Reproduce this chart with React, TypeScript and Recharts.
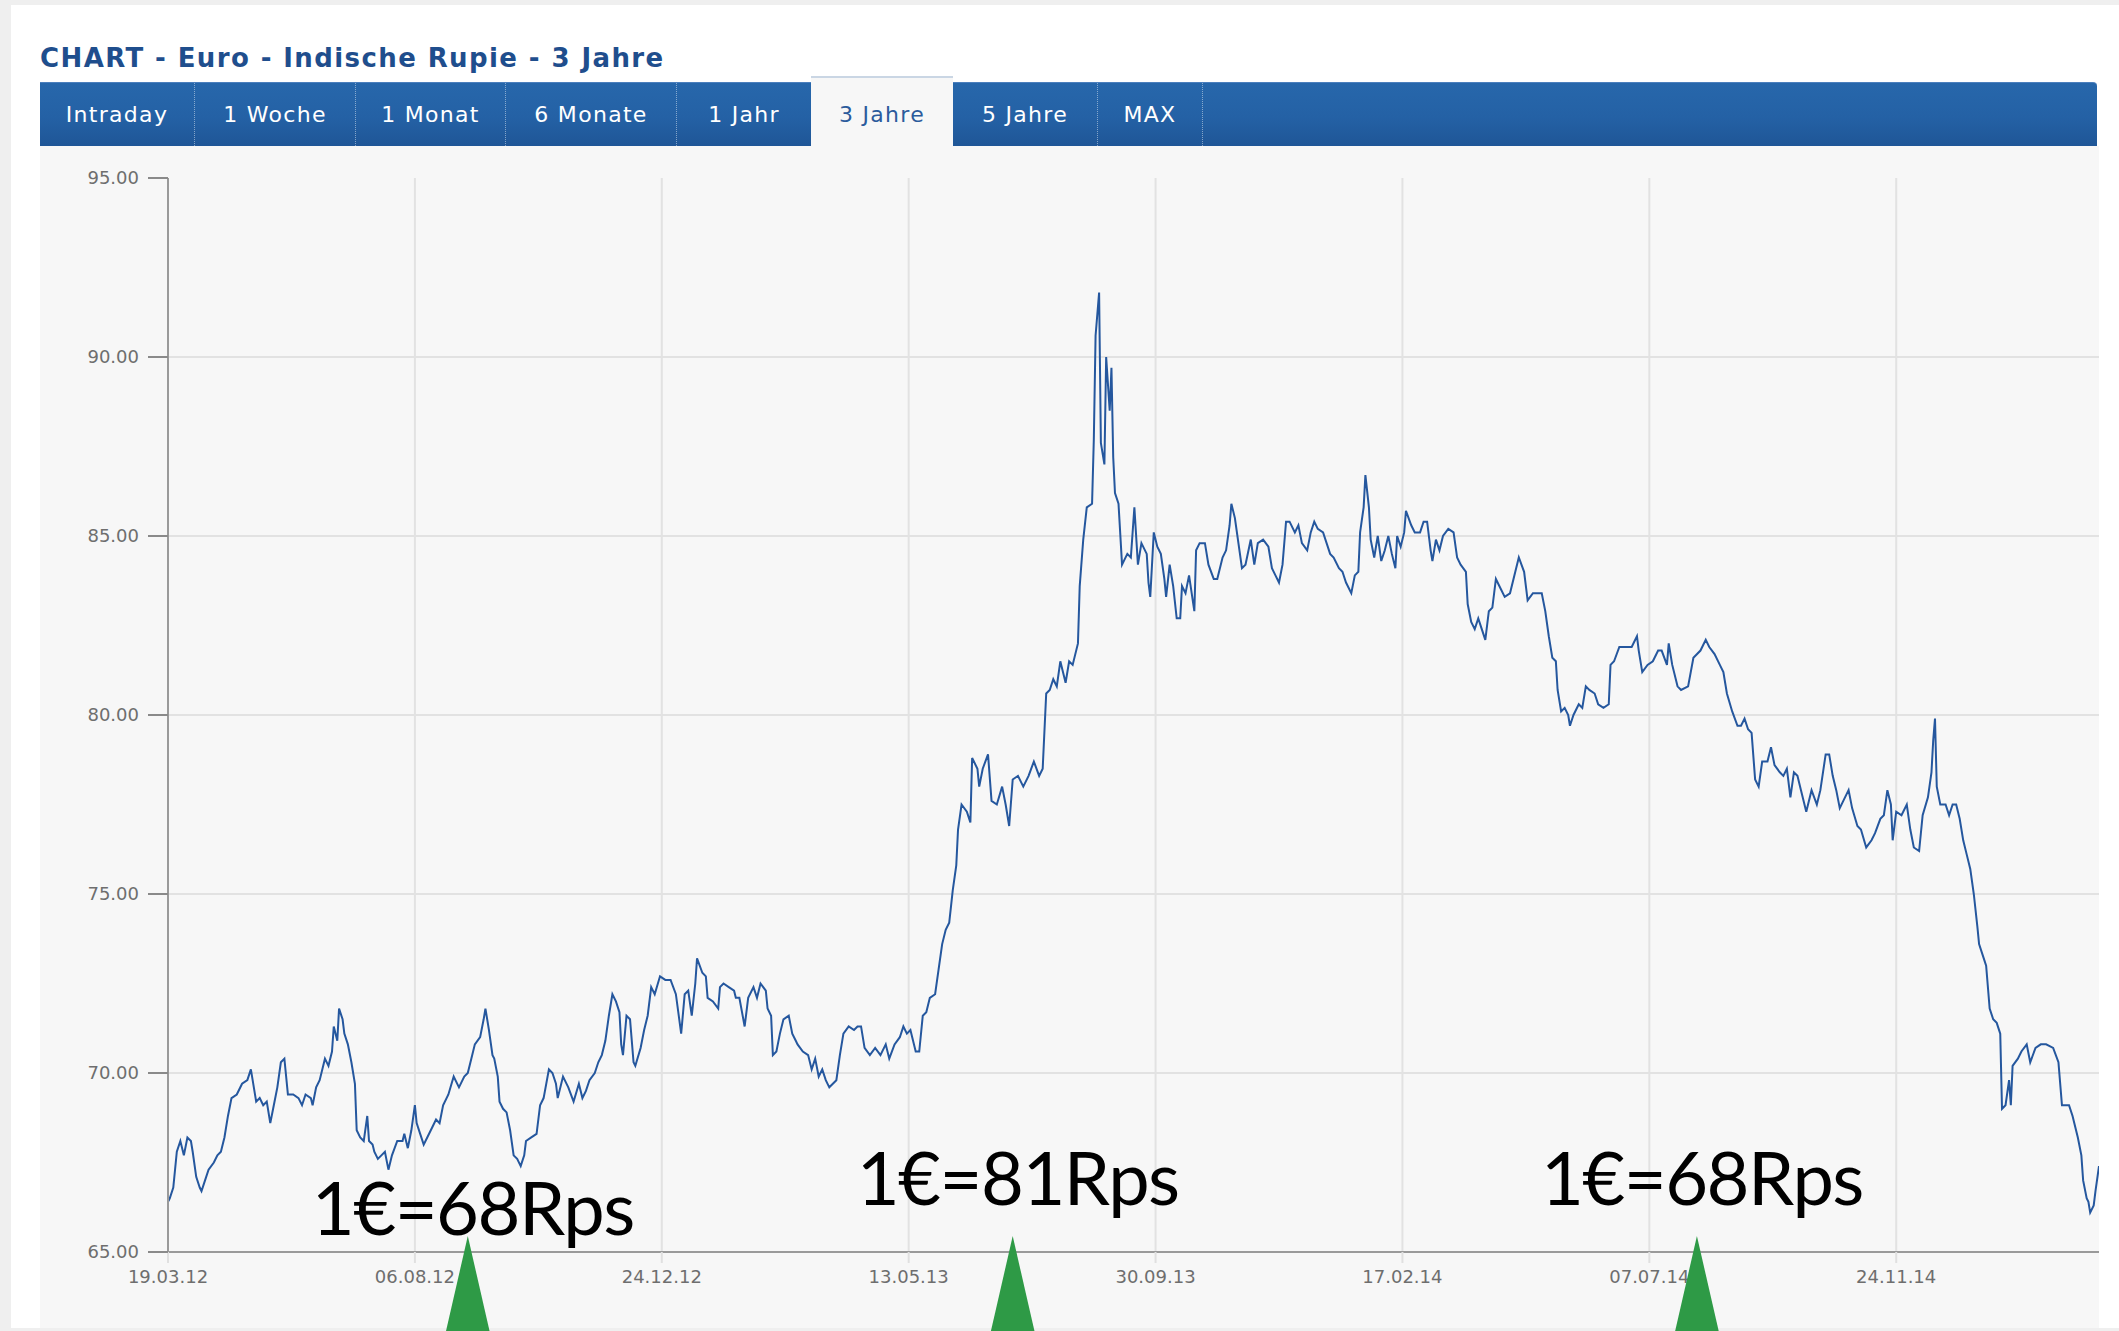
import { LineChart, Line, XAxis, YAxis, CartesianGrid, ReferenceDot } from 'recharts';

const FONT = '"DejaVu Sans", Verdana, sans-serif';

const title = 'CHART - Euro - Indische Rupie - 3 Jahre';
const tabs = ['Intraday', '1 Woche', '1 Monat', '6 Monate', '1 Jahr', '3 Jahre', '5 Jahre', 'MAX'];
const activeTab = '3 Jahre';

// x axis: days since 19.03.12
const tickDays = [0, 140, 280, 420, 560, 700, 840, 980];
const tickLabels = ['19.03.12', '06.08.12', '24.12.12', '13.05.13', '30.09.13', '17.02.14', '07.07.14', '24.11.14'];
const rateTicks = [65, 70, 75, 80, 85, 90, 95];

const days = [
  0, 1, 3, 5, 7, 9, 11, 13, 14, 16,
  18, 19, 21, 23, 26, 28, 30, 32, 34, 36,
  39, 42, 45, 47, 48, 50, 52, 54, 56, 58,
  60, 62, 64, 66, 68, 71, 74, 76, 78, 81,
  82, 84, 86, 89, 91, 93, 94, 96, 97, 99,
  100, 102, 104, 106, 107, 109, 111, 113, 114, 116,
  117, 119, 121, 123, 125, 127, 130, 133, 134, 136,
  138, 140, 141, 143, 145, 147, 150, 152, 154, 156,
  159, 162, 165, 168, 170, 172, 174, 177, 179, 180,
  182, 184, 185, 187, 188, 190, 192, 194, 196, 198,
  200, 202, 203, 206, 209, 211, 213, 216, 218, 220,
  221, 224, 227, 230, 233, 235, 237, 239, 242, 244,
  246, 248, 250, 252, 254, 256, 257, 258, 260, 262,
  264, 265, 268, 270, 272, 274, 276, 279, 282, 285,
  288,
  // 2013
  291, 293, 295, 297, 299, 300, 303, 305, 306, 309,
  312, 313, 315, 318, 321, 322, 324, 327, 329, 332,
  334, 336, 339, 340, 342, 343, 345, 347, 349, 352,
  354, 356, 357, 360, 363, 365, 367, 369, 371, 373,
  375, 379, 381, 383, 386, 389, 391, 393, 395, 398,
  401, 404, 407, 409, 412, 415, 417, 419, 421, 424,
  426, 428, 430, 432, 435, 437, 439, 441, 443, 445,
  447, 448, 450, 453, 455, 456, 459, 460, 462, 465,
  467, 470, 473, 475, 477, 479, 482, 485, 488, 491,
  494, 496, 498, 500, 502, 504, 506, 509, 511, 513,
  516, 517, 519, 521, 524, 525, 526, 528, 529, 531,
  532, 534, 535, 536, 537, 539, 541, 544, 546, 548,
  550,
  552, 555, 556, 557, 559, 561, 563, 565, 566, 568,
  570, 572, 574, 575, 577, 579, 582, 583, 585, 588,
  590, 593, 595, 598, 600, 602, 603, 605, 607, 609,
  611, 614, 616, 618, 621, 624, 626, 628, 630, 632,
  634, 636, 639, 641, 643, 646, 648, 650, 652, 655,
  657, 659, 661, 664, 666, 668, 671, 673, 675, 676,
  678, 679, 681, 682, 684, 686, 688, 690, 692, 694,
  696, 697, 699, 701, 702, 705, 707, 710, 712, 714,
  716, 717, 719, 721, 723, 726, 729, 731, 733, 736,
  737, 739, 741, 743, 745, 747, 749, 751, 753, 756,
  758, 761, 764, 766, 769, 771, 774, 777, 779, 781,
  783, 785, 787, 788, 790, 792, 794, 795, 797, 800,
  802, 804, 806, 809, 811, 814, 817, 818, 820, 823,
  826, 830, 833, 834, 836, 839, 842, 845,
  847, 850, 851, 853, 856, 858, 862, 865, 869, 872,
  874, 877, 880, 882, 884, 887, 890, 892, 894, 896,
  898, 900, 902, 904, 907, 909, 911, 914, 916, 918,
  920, 922, 924, 926, 929, 932, 935, 937, 940, 942,
  944, 946, 948, 950, 953, 955, 958, 960, 963, 966,
  968, 971, 973, 975, 977, 978, 980, 983, 986, 988,
  990, 993, 995, 998, 1000, 1001, 1002, 1003, 1005, 1008,
  1010, 1012, 1014, 1016, 1018, 1020, 1022, 1024, 1026, 1027,
  1029, 1031, 1033, 1035, 1037, 1039, 1040, 1042, 1044, 1045,
  1046, 1049, 1051, 1054, 1056, 1059, 1062, 1065, 1069, 1072,
  1074, 1078, 1080, 1083, 1085, 1086, 1088, 1089, 1090, 1092,
  1093, 1095,
];

const rates = [
  66.4, 66.5, 66.8, 67.8, 68.1, 67.7, 68.2, 68.1, 67.8, 67.1,
  66.8, 66.7, 67.0, 67.3, 67.5, 67.7, 67.8, 68.2, 68.8, 69.3,
  69.4, 69.7, 69.8, 70.1, 69.8, 69.2, 69.3, 69.1, 69.2, 68.6,
  69.1, 69.6, 70.3, 70.4, 69.4, 69.4, 69.3, 69.1, 69.4, 69.3,
  69.1, 69.6, 69.8, 70.4, 70.2, 70.6, 71.3, 70.9, 71.8, 71.5,
  71.1, 70.8, 70.3, 69.7, 68.4, 68.2, 68.1, 68.8, 68.1, 68.0,
  67.8, 67.6, 67.7, 67.8, 67.3, 67.7, 68.1, 68.1, 68.3, 67.9,
  68.4, 69.1, 68.6, 68.3, 68.0, 68.2, 68.5, 68.7, 68.6, 69.1,
  69.4, 69.9, 69.6, 69.9, 70.0, 70.4, 70.8, 71.0, 71.5, 71.8,
  71.2, 70.5, 70.4, 69.9, 69.2, 69.0, 68.9, 68.4, 67.7, 67.6,
  67.4, 67.7, 68.1, 68.2, 68.3, 69.1, 69.3, 70.1, 70.0, 69.7,
  69.3, 69.9, 69.6, 69.2, 69.7, 69.3, 69.5, 69.8, 70.0, 70.3,
  70.5, 70.9, 71.6, 72.2, 72.0, 71.7, 70.8, 70.5, 71.6, 71.5,
  70.3, 70.2, 70.7, 71.2, 71.6, 72.4, 72.2, 72.7, 72.6, 72.6,
  72.2,
  71.1, 72.2, 72.3, 71.6, 72.5, 73.2, 72.8, 72.7, 72.1, 72.0,
  71.8, 72.4, 72.5, 72.4, 72.3, 72.1, 72.1, 71.3, 72.1, 72.4,
  72.1, 72.5, 72.3, 71.8, 71.6, 70.5, 70.6, 71.1, 71.5, 71.6,
  71.1, 70.9, 70.8, 70.6, 70.5, 70.1, 70.4, 69.9, 70.1, 69.8,
  69.6, 69.8, 70.5, 71.1, 71.3, 71.2, 71.3, 71.3, 70.7, 70.5,
  70.7, 70.5, 70.8, 70.4, 70.8, 71.0, 71.3, 71.1, 71.2, 70.6,
  70.6, 71.6, 71.7, 72.1, 72.2, 72.9, 73.6, 74.0, 74.2, 75.1,
  75.8, 76.8, 77.5, 77.3, 77.0, 78.8, 78.5, 78.0, 78.5, 78.9,
  77.6, 77.5, 78.0, 77.5, 76.9, 78.2, 78.3, 78.0, 78.3, 78.7,
  78.3, 78.5, 80.6, 80.7, 81.0, 80.8, 81.5, 80.9, 81.5, 81.4,
  82.0, 83.6, 84.9, 85.8, 85.9, 87.7, 90.6, 91.8, 87.6, 87.0,
  90.0, 88.5, 89.7, 87.2, 86.2, 85.9, 84.2, 84.5, 84.4, 85.8,
  84.2,
  84.8, 84.5, 83.7, 83.3, 85.1, 84.7, 84.5, 83.8, 83.3, 84.2,
  83.6, 82.7, 82.7, 83.6, 83.4, 83.9, 82.9, 84.6, 84.8, 84.8,
  84.2, 83.8, 83.8, 84.4, 84.6, 85.3, 85.9, 85.5, 84.8, 84.1,
  84.2, 84.9, 84.2, 84.8, 84.9, 84.7, 84.1, 83.9, 83.7, 84.2,
  85.4, 85.4, 85.1, 85.3, 84.8, 84.6, 85.1, 85.4, 85.2, 85.1,
  84.8, 84.5, 84.4, 84.1, 84.0, 83.7, 83.4, 83.9, 84.0, 85.1,
  85.8, 86.7, 85.8, 84.9, 84.4, 85.0, 84.3, 84.6, 85.0, 84.5,
  84.1, 85.0, 84.7, 85.1, 85.7, 85.3, 85.1, 85.1, 85.4, 85.4,
  84.6, 84.3, 84.9, 84.6, 85.0, 85.2, 85.1, 84.4, 84.2, 84.0,
  83.1, 82.6, 82.4, 82.7, 82.4, 82.1, 82.9, 83.0, 83.8, 83.5,
  83.3, 83.4, 84.0, 84.4, 84.0, 83.2, 83.4, 83.4, 83.4, 82.9,
  82.2, 81.6, 81.5, 80.7, 80.1, 80.2, 80.0, 79.7, 80.0, 80.3,
  80.2, 80.8, 80.7, 80.6, 80.3, 80.2, 80.3, 81.4, 81.5, 81.9,
  81.9, 81.9, 82.2, 81.8, 81.2, 81.4, 81.5, 81.8,
  81.8, 81.4, 82.0, 81.4, 80.8, 80.7, 80.8, 81.6, 81.8, 82.1,
  81.9, 81.7, 81.4, 81.2, 80.6, 80.1, 79.7, 79.7, 79.9, 79.6,
  79.5, 78.2, 78.0, 78.7, 78.7, 79.1, 78.6, 78.4, 78.3, 78.5,
  77.7, 78.4, 78.3, 77.9, 77.3, 77.9, 77.5, 77.9, 78.9, 78.9,
  78.3, 77.9, 77.4, 77.6, 77.9, 77.4, 76.9, 76.8, 76.3, 76.5,
  76.7, 77.1, 77.2, 77.9, 77.5, 76.5, 77.3, 77.2, 77.5, 76.8,
  76.3, 76.2, 77.2, 77.7, 78.4, 79.3, 79.9, 78.0, 77.5, 77.5,
  77.2, 77.5, 77.5, 77.1, 76.5, 76.1, 75.7, 75.0, 74.1, 73.6,
  73.3, 73.0, 71.8, 71.5, 71.4, 71.1, 69.0, 69.1, 69.8, 69.1,
  70.2, 70.4, 70.6, 70.8, 70.3, 70.7, 70.8, 70.8, 70.7, 70.3,
  69.1, 69.1, 68.8, 68.2, 67.7, 67.0, 66.5, 66.4, 66.1, 66.3,
  66.7, 67.4,
];

// annotations pinned under the chart
const noteDays = [170, 479, 867];
const noteLabels = ['1€=68Rps', '1€=81Rps', '1€=68Rps'];

const NOTE_LIFT = [17, 47, 47];
const TAB_WIDTHS = [155, 161, 150, 171, 134, 142, 145, 105];

const data = days.slice(0, rates.length).map((day, i) => ({ day, rate: rates[i] }));

function NoteMarker({ cx, cy, label, lift }: { cx?: number; cy?: number; label: string; lift: number }) {
  if (cx == null || cy == null) return null;
  return (
    <g>
      <text x={cx + 5} y={cy - lift} textAnchor="middle" fontFamily="Lato, 'Open Sans', sans-serif"
        fontSize={74} letterSpacing={-1.5} fill="#000">{label}</text>
      <polygon points={`${cx},${cy - 16} ${cx - 22},${cy + 80} ${cx + 22},${cy + 80}`} fill="#2e9a46" />
    </g>
  );
}

function TabBar() {
  let left = 0;
  return (
    <div style={{
      position: 'absolute', left: 40, top: 82, width: 2057, height: 64,
      background: 'linear-gradient(#2767ab, #2461a5 55%, #1f5697)',
      borderTop: '1px solid #4b7fbd', boxSizing: 'border-box', borderTopRightRadius: 4,
    }}>
      {tabs.map((t, i) => {
        const w = TAB_WIDTHS[i];
        const x = left;
        left += w;
        const active = t === activeTab;
        const nextActive = tabs[i + 1] === activeTab;
        return (
          <div key={t} style={{
            position: 'absolute', left: x, top: active ? -7 : 0, width: w, height: active ? 70 : 63,
            background: active ? '#f7f7f7' : 'transparent',
            borderTop: active ? '2px solid #cad6e4' : 'none',
            borderRight: !active && !nextActive ? '1px dotted rgba(255,255,255,0.45)' : 'none',
            boxSizing: 'border-box',
            display: 'flex', alignItems: 'center', justifyContent: 'center',
            paddingTop: active ? 5 : 0,
            fontFamily: FONT, fontSize: 22, letterSpacing: 1.3,
            color: active ? '#2b5b9c' : '#ffffff',
          }}>{t}</div>
        );
      })}
    </div>
  );
}

export default function App() {
  return (
    <div style={{ position: 'absolute', left: 0, top: 0, width: 2119, height: 1331, background: '#efefef', overflow: 'hidden' }}>
      <div style={{ position: 'absolute', left: 11, top: 5, right: 0, bottom: 3, background: '#ffffff' }} />
      <div style={{
        position: 'absolute', left: 40, top: 41, height: 34, lineHeight: '34px', whiteSpace: 'nowrap',
        fontFamily: FONT, fontWeight: 'bold', fontSize: 26, letterSpacing: 1.4, color: '#1f4e8d',
      }}>{title}</div>
      <TabBar />
      <div style={{ position: 'absolute', left: 40, top: 146, width: 2059, height: 1182, background: '#f7f7f7' }} />
      <div style={{ position: 'absolute', left: 40, top: 146 }}>
        <LineChart width={2059} height={1185} data={data} margin={{ top: 32, right: 0, bottom: 0, left: 0 }}>
          <CartesianGrid stroke="#e2e2e2" strokeWidth={2}
            horizontalValues={[70, 75, 80, 85, 90]} verticalValues={tickDays.slice(1)} />
          <XAxis dataKey="day" type="number" domain={[0, 1095]} ticks={tickDays} interval={0}
            tickFormatter={(d: number) => tickLabels[tickDays.indexOf(d)] ?? ''}
            height={79} tickSize={11} tickMargin={7}
            axisLine={{ stroke: '#9a9a9a', strokeWidth: 2 }}
            tickLine={{ stroke: '#e0e0e0', strokeWidth: 2 }}
            tick={{ fill: '#6e6e6e', fontSize: 18, fontFamily: FONT }} />
          <YAxis type="number" domain={[65, 95]} ticks={rateTicks} interval={0} width={128}
            tickFormatter={(v: number) => v.toFixed(2)}
            tickSize={20} tickMargin={9}
            axisLine={{ stroke: '#9a9a9a', strokeWidth: 2 }}
            tickLine={{ stroke: '#8a8a8a', strokeWidth: 2 }}
            tick={{ fill: '#6e6e6e', fontSize: 18, fontFamily: FONT }} />
          <Line type="linear" dataKey="rate" stroke="#25579e" strokeWidth={2}
            dot={false} activeDot={false} isAnimationActive={false} />
          {noteDays.map((d, i) => (
            <ReferenceDot key={i} x={d} y={65} r={1} zIndex={2500}
              shape={(p: any) => <NoteMarker cx={p.cx} cy={p.cy} label={noteLabels[i]} lift={NOTE_LIFT[i]} />} />
          ))}
        </LineChart>
      </div>
    </div>
  );
}
